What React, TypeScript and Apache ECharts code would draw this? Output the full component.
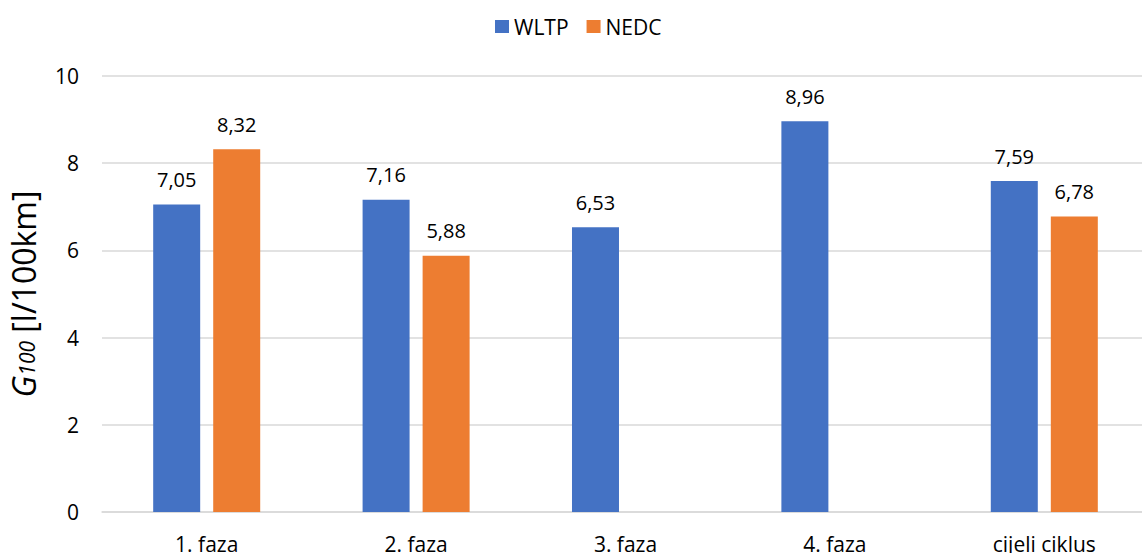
import React, { useEffect, useRef } from "react";
import * as echarts from "echarts";

const categories = ["1. faza", "2. faza", "3. faza", "4. faza", "cijeli ciklus"];
const wltp = [7.05, 7.16, 6.53, 8.96, 7.59];
const nedc: (number | null)[] = [8.32, 5.88, null, null, 6.78];
const yTicks = { min: 0, max: 10, interval: 2 };

const FONT = "'Open Sans', 'Noto Sans', sans-serif";

export default function App() {
  const ref = useRef<HTMLDivElement>(null);
  useEffect(() => {
    if (!ref.current) return;
    const chart = echarts.init(ref.current, null, { renderer: "svg" });
    const fmt = (p: any) => (p.value == null ? "" : Number(p.value).toFixed(2).replace(".", ","));
    chart.setOption({
      animation: false,
      backgroundColor: "#ffffff",
      textStyle: { fontFamily: FONT },
      legend: {
        top: 11,
        left: 490,
        itemWidth: 14,
        itemHeight: 13,
        itemGap: 18,
        textStyle: { fontSize: 21, color: "#000", fontFamily: FONT },
        data: [
          { name: "WLTP", icon: "rect" },
          { name: "NEDC", icon: "rect" },
        ],
      },
      grid: { left: 102, width: 1047, top: 76, height: 436, outerBoundsMode: "none", containLabel: false },
      xAxis: {
        type: "category",
        data: categories,
        axisLine: { lineStyle: { color: "#d9d9d9", width: 1.5 } },
        axisTick: { show: false },
        axisLabel: { color: "#000", fontSize: 21, margin: 21, fontFamily: FONT },
      },
      yAxis: {
        type: "value",
        min: yTicks.min,
        max: yTicks.max,
        interval: yTicks.interval,
        axisLabel: { color: "#000", fontSize: 21, margin: 23, fontFamily: FONT },
        splitLine: { lineStyle: { color: "#d9d9d9", width: 1.5 } },
        axisLine: { show: false },
        axisTick: { show: false },
        name: "{g|G}{s|100}{n| [l/100km]}",
        nameLocation: "middle",
        nameGap: 63,
        nameRotate: 90,
        nameTextStyle: {
          rich: {
            g: { fontSize: 32, fontStyle: "italic", color: "#000", fontFamily: FONT, verticalAlign: "bottom" },
            s: { fontSize: 21, fontStyle: "italic", color: "#000", fontFamily: FONT, verticalAlign: "bottom", padding: [0, 0, 2, 0] },
            n: { fontSize: 32, color: "#000", fontFamily: FONT, verticalAlign: "bottom" },
          },
        },
      },
      series: [
        {
          name: "WLTP",
          type: "bar",
          data: wltp,
          barWidth: 47,
          barGap: "27.7%",
          itemStyle: { color: "#4472C4" },
          label: { show: true, position: "top", distance: 15, fontSize: 20, color: "#000", fontFamily: FONT, formatter: fmt },
        },
        {
          name: "NEDC",
          type: "bar",
          data: nedc,
          barWidth: 47,
          barGap: "27.7%",
          itemStyle: { color: "#ED7D31" },
          label: { show: true, position: "top", distance: 15, fontSize: 20, color: "#000", fontFamily: FONT, formatter: fmt },
        },
      ],
    });
    return () => chart.dispose();
  }, []);
  return (
    <div
      ref={ref}
      style={{ position: "fixed", left: 0, top: 0, width: 1142, height: 553, background: "#fff" }}
    />
  );
}
